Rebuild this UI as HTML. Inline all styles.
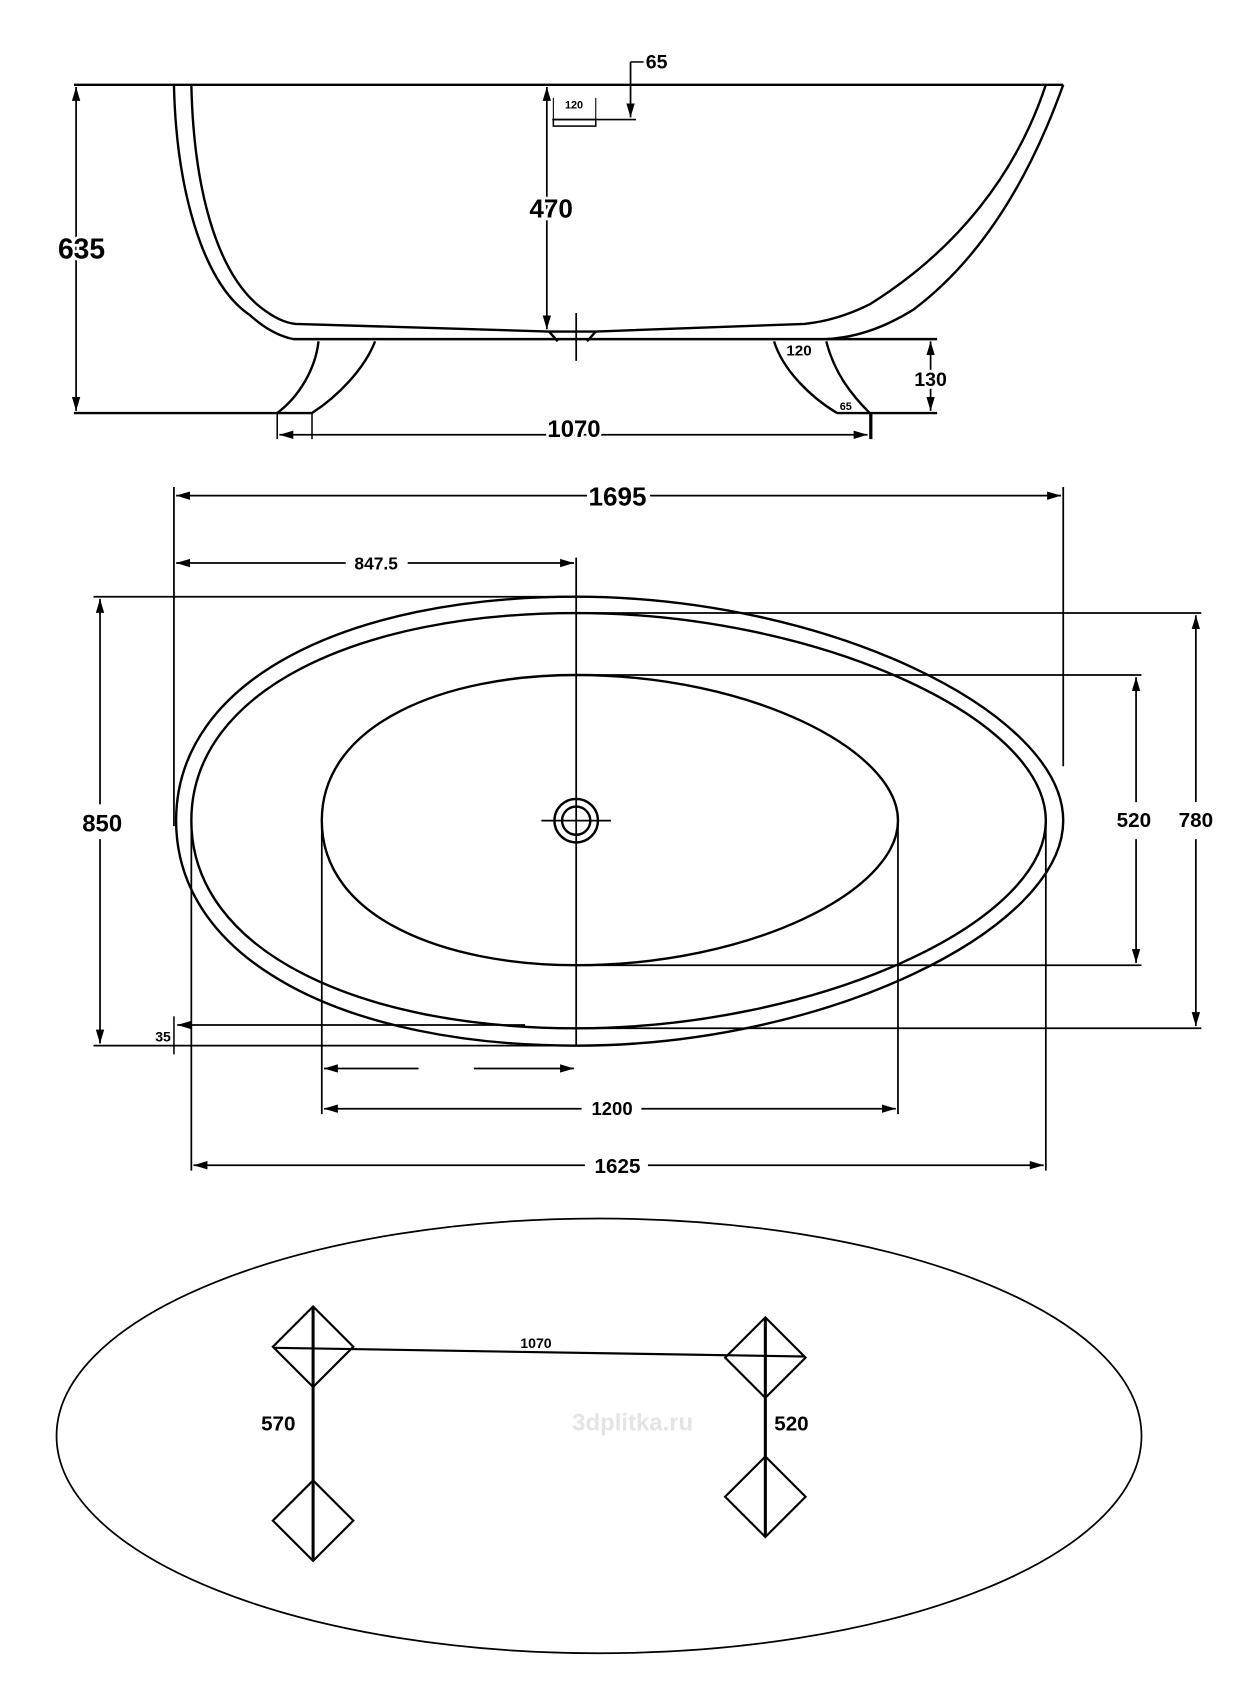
<!DOCTYPE html>
<html><head><meta charset="utf-8"><style>
html,body{margin:0;padding:0;background:#fff}
svg{display:block}
text{font-family:"Liberation Sans",sans-serif;font-weight:bold;fill:#000}
.h{stroke:#fff;stroke-width:5px;paint-order:stroke}
</style></head><body>
<svg width="1260" height="1700" viewBox="0 0 1159 1564" preserveAspectRatio="none" xmlns="http://www.w3.org/2000/svg">
<defs>
<marker id="a" viewBox="0 0 10 10" refX="10" refY="5" markerWidth="8" markerHeight="8" orient="auto-start-reverse"><path d="M0,2 L10,5 L0,8 z" fill="#000"/></marker>
</defs>
<g fill="none" stroke="#000" stroke-width="2.2">
<!-- SIDE VIEW -->
<line x1="68" y1="78" x2="978" y2="78"/>
<line x1="70" y1="80" x2="70" y2="378" marker-start="url(#a)" marker-end="url(#a)" stroke-width="1.6"/>
<line x1="68" y1="380" x2="287" y2="380"/>
<line x1="770" y1="380" x2="862" y2="380"/>
<path d="M160,78 C162,170 185,260 230,290 Q250,308 270,312 L760,312 Q800,310 840,285 C900,240 945,170 978,78"/>
<path d="M176,78 C178,170 198,250 240,283 Q258,297 272,298 L505,305 L548,305 L740,298 Q770,295 800,280 C880,230 935,160 962,78"/>
<path d="M505,305 L513,314 M548,305 L540,314"/>
<line x1="530" y1="288" x2="530" y2="332" stroke-width="1.6"/>
<path d="M293,314 C290,340 275,365 255,380 M345,314 C335,340 310,365 287,380 M712,314 C720,340 745,365 770,380 M760,314 C768,345 785,365 800,380"/>
<line x1="760" y1="312" x2="862" y2="312"/>
<line x1="856" y1="314" x2="856" y2="378" marker-start="url(#a)" marker-end="url(#a)" stroke-width="1.6"/>
<line x1="257" y1="400" x2="798" y2="400" marker-start="url(#a)" marker-end="url(#a)" stroke-width="1.6"/>
<line x1="255" y1="380" x2="255" y2="404" stroke-width="1.4"/>
<line x1="287" y1="380" x2="287" y2="404" stroke-width="1.4"/>
<line x1="801" y1="380" x2="801" y2="404" stroke-width="3"/>
<line x1="503" y1="80" x2="503" y2="303" marker-start="url(#a)" marker-end="url(#a)" stroke-width="1.6"/>
<line x1="580" y1="57" x2="580" y2="108" marker-end="url(#a)" stroke-width="1.6"/>
<line x1="580" y1="57" x2="592" y2="57" stroke-width="1.4"/>
<line x1="508" y1="110" x2="585" y2="110" stroke-width="1.6"/>
<rect x="509" y="110" width="39" height="6" stroke-width="1.4"/>
<line x1="509" y1="90" x2="509" y2="110" stroke-width="1"/>
<line x1="548" y1="90" x2="548" y2="110" stroke-width="1"/>

<!-- TOP VIEW -->
<line x1="162" y1="456" x2="540" y2="456" marker-start="url(#a)" stroke-width="1.6"/>
<line x1="598" y1="456" x2="976" y2="456" marker-end="url(#a)" stroke-width="1.6"/>
<line x1="160" y1="448" x2="160" y2="760" stroke-width="1.6"/>
<line x1="978" y1="448" x2="978" y2="705" stroke-width="1.6"/>
<line x1="162" y1="518" x2="318" y2="518" marker-start="url(#a)" stroke-width="1.6"/>
<line x1="375" y1="518" x2="528" y2="518" marker-end="url(#a)" stroke-width="1.6"/>
<line x1="530" y1="513" x2="530" y2="962" stroke-width="1.6"/>
<path d="M162,755 C162,625 320,549 530,549 C760,549 978,655 978,755 C978,855 760,962 530,962 C320,962 162,885 162,755 Z"/>
<path d="M176,755 C176,635 330,564 530,564 C750,564 962,660 962,755 C962,850 750,946 530,946 C330,946 176,875 176,755 Z"/>
<path d="M296,755 C296,665 410,621 530,621 C690,621 826,690 826,755 C826,820 690,888 530,888 C410,888 296,845 296,755 Z"/>
<circle cx="530" cy="755" r="20"/>
<circle cx="530" cy="755" r="13"/>
<line x1="498" y1="755" x2="562" y2="755" stroke-width="1.6"/>
<line x1="86" y1="549" x2="530" y2="549" stroke-width="1.6"/>
<line x1="86" y1="962" x2="530" y2="962" stroke-width="1.6"/>
<line x1="92" y1="551" x2="92" y2="740" marker-start="url(#a)" stroke-width="1.6"/>
<line x1="92" y1="772" x2="92" y2="960" marker-end="url(#a)" stroke-width="1.6"/>
<line x1="530" y1="564" x2="1105" y2="564" stroke-width="1.6"/>
<line x1="530" y1="946" x2="1105" y2="946" stroke-width="1.6"/>
<line x1="1100" y1="566" x2="1100" y2="738" marker-start="url(#a)" stroke-width="1.6"/>
<line x1="1100" y1="772" x2="1100" y2="944" marker-end="url(#a)" stroke-width="1.6"/>
<line x1="530" y1="621" x2="1050" y2="621" stroke-width="1.6"/>
<line x1="530" y1="888" x2="1050" y2="888" stroke-width="1.6"/>
<line x1="1045" y1="623" x2="1045" y2="738" marker-start="url(#a)" stroke-width="1.6"/>
<line x1="1045" y1="772" x2="1045" y2="886" marker-end="url(#a)" stroke-width="1.6"/>
<line x1="163" y1="943" x2="483" y2="943" marker-start="url(#a)" stroke-width="1.6"/>
<line x1="160" y1="935" x2="160" y2="970" stroke-width="1.4"/>
<line x1="296" y1="755" x2="296" y2="1025" stroke-width="1.6"/>
<line x1="826" y1="755" x2="826" y2="1025" stroke-width="1.6"/>
<line x1="176" y1="755" x2="176" y2="1077" stroke-width="1.6"/>
<line x1="962" y1="755" x2="962" y2="1077" stroke-width="1.6"/>
<line x1="298" y1="983" x2="385" y2="983" marker-start="url(#a)" stroke-width="1.6"/>
<line x1="436" y1="983" x2="528" y2="983" marker-end="url(#a)" stroke-width="1.6"/>
<line x1="298" y1="1020" x2="535" y2="1020" marker-start="url(#a)" stroke-width="1.6"/>
<line x1="590" y1="1020" x2="824" y2="1020" marker-end="url(#a)" stroke-width="1.6"/>
<line x1="178" y1="1072" x2="538" y2="1072" marker-start="url(#a)" stroke-width="1.6"/>
<line x1="596" y1="1072" x2="960" y2="1072" marker-end="url(#a)" stroke-width="1.6"/>

<!-- BOTTOM VIEW -->
<ellipse cx="551" cy="1321" rx="499" ry="200" stroke-width="1.6"/>
<g stroke-width="2">
<path d="M288,1202 L325,1239 L288,1276 L251,1239 Z"/>
<path d="M704,1212 L741,1249 L704,1286 L667,1249 Z"/>
<path d="M288,1362 L325,1399 L288,1436 L251,1399 Z"/>
<path d="M704,1340 L741,1377 L704,1414 L667,1377 Z"/>
<line x1="252" y1="1240" x2="740" y2="1248"/>
<line x1="288" y1="1202" x2="288" y2="1436" stroke-width="2.8"/>
<line x1="704" y1="1212" x2="704" y2="1414" stroke-width="2.8"/>
</g>
</g>

<g>
<text class="h" x="75" y="238" font-size="26" text-anchor="middle">635</text>
<text class="h" x="507" y="200" font-size="24" text-anchor="middle">470</text>
<text x="604" y="63" font-size="18" text-anchor="middle">65</text>
<text x="528" y="100" font-size="10" font-weight="normal" text-anchor="middle">120</text>
<text x="735" y="327" font-size="14" text-anchor="middle">120</text>
<text x="778" y="377" font-size="10" text-anchor="middle">65</text>
<text class="h" x="856" y="355" font-size="18" text-anchor="middle">130</text>
<text class="h" x="528" y="402" font-size="22" text-anchor="middle">1070</text>
<text x="568" y="465" font-size="24" font-family="Liberation Serif" font-weight="normal" text-anchor="middle">1695</text>
<text x="346" y="524" font-size="16" text-anchor="middle">847.5</text>
<text x="94" y="765" font-size="22" text-anchor="middle">850</text>
<text x="1100" y="761" font-size="19" text-anchor="middle">780</text>
<text x="1043" y="761" font-size="19" text-anchor="middle">520</text>
<text x="150" y="958" font-size="13" text-anchor="middle">35</text>
<text x="563" y="1026" font-size="17" text-anchor="middle">1200</text>
<text x="568" y="1079" font-size="19" text-anchor="middle">1625</text>
<text x="493" y="1240" font-size="13" text-anchor="middle">1070</text>
<text x="256" y="1316" font-size="19" text-anchor="middle">570</text>
<text x="728" y="1316" font-size="19" text-anchor="middle">520</text>
<text x="582" y="1316" font-size="22" font-weight="normal" style="fill:#e4e4e4" text-anchor="middle">3dplitka.ru</text>
</g>
</svg>
</body></html>
